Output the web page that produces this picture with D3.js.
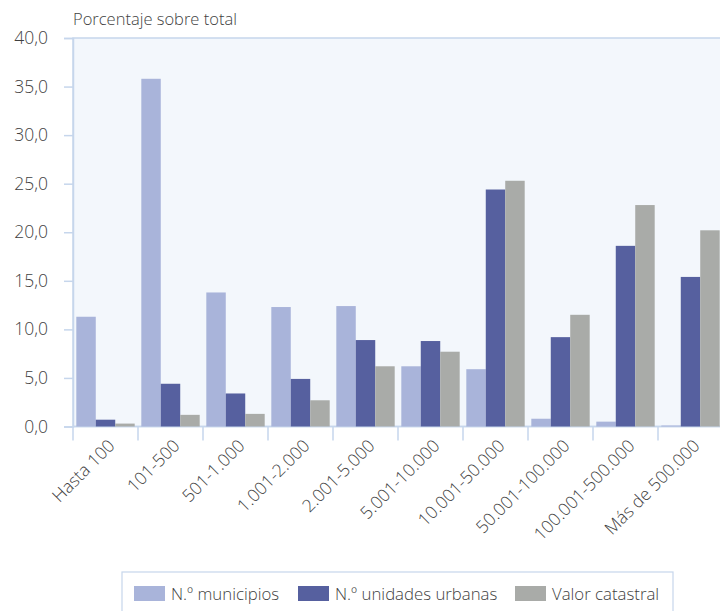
<!DOCTYPE html>
<html>
<head>
<meta charset="utf-8">
<script src="https://cdn.jsdelivr.net/npm/d3@7"></script>
<style>
  html, body { margin: 0; padding: 0; background: #ffffff; }
  svg { display: block; }
  svg text { font-family: "Open Sans", "Noto Sans", sans-serif; font-weight: 300; }
</style>
</head>
<body>
<svg id="chart" width="720" height="611"></svg>
<script>
// Municipality size bands (inhabitants)
const categories = ["Hasta 100", "101-500", "501-1.000", "1.001-2.000", "2.001-5.000",
  "5.001-10.000", "10.001-50.000", "50.001-100.000", "100.001-500.000", "Más de 500.000"];

// Share of total (%) per band
const municipios = [11.3, 35.8, 13.8, 12.3, 12.4, 6.2, 5.9, 0.8, 0.5, 0.1];
const unidadesUrbanas = [0.7, 4.4, 3.4, 4.9, 8.9, 8.8, 24.4, 9.2, 18.6, 15.4];
const valorCatastral = [0.3, 1.2, 1.3, 2.7, 6.2, 7.7, 25.3, 11.5, 22.8, 20.2];

const seriesNames = ["N.º municipios", "N.º unidades urbanas", "Valor catastral"];
const yTicks = [0, 5, 10, 15, 20, 25, 30, 35, 40];

const colors = ["#a9b4da", "#56609f", "#a9aba8"];
const textColor = "#3f3f3f";
const lineColor = "#c6d6ec";

const svg = d3.select("#chart");
const plot = { left: 73, right: 723, top: 38, bottom: 426.5 };

const x = d3.scaleBand().domain(categories).range([plot.left, plot.right]).paddingInner(0).paddingOuter(0);
const inner = d3.scaleBand().domain(seriesNames).range([0, x.bandwidth()]).paddingInner(0).paddingOuter(0.17);
const y = d3.scaleLinear().domain([0, 40]).range([plot.bottom, plot.top]);

// plot background
svg.append("rect")
  .attr("x", plot.left).attr("y", plot.top)
  .attr("width", plot.right - plot.left).attr("height", plot.bottom - plot.top)
  .attr("fill", "#f3f7fc").attr("stroke", lineColor).attr("stroke-width", 1.5);

// y axis
const yAxis = d3.axisLeft(y).tickValues(yTicks).tickSize(9).tickPadding(16)
  .tickFormat(d => d3.format(".1f")(d).replace(".", ","));
const gy = svg.append("g").attr("transform", `translate(${plot.left},0)`).call(yAxis)
  .attr("font-family", null).attr("font-size", null);
gy.select(".domain").attr("stroke", lineColor).attr("stroke-width", 1.5);
gy.selectAll(".tick line").attr("stroke", lineColor).attr("stroke-width", 1.5);
gy.selectAll(".tick text").attr("fill", textColor).style("font-size", "17.5px");

// x axis: ticks at band boundaries
svg.append("line")
  .attr("x1", plot.left).attr("x2", plot.right)
  .attr("y1", plot.bottom).attr("y2", plot.bottom)
  .attr("stroke", lineColor).attr("stroke-width", 1.5);
svg.append("g").selectAll("line")
  .data(categories)
  .join("line")
  .attr("x1", d => x(d)).attr("x2", d => x(d))
  .attr("y1", plot.bottom).attr("y2", plot.bottom + 14)
  .attr("stroke", lineColor).attr("stroke-width", 1.5);

svg.append("g").selectAll("text")
  .data(categories)
  .join("text")
  .attr("transform", d => `translate(${x(d) + x.bandwidth() / 2 + 6},${plot.bottom + 16}) rotate(-45)`)
  .attr("text-anchor", "end")
  .attr("dy", "0.35em")
  .attr("fill", textColor)
  .style("font-size", "17.5px")
  .text(d => d);

// bars
const allSeries = [municipios, unidadesUrbanas, valorCatastral];
const rows = categories.map((c, i) => ({ cat: c, vals: allSeries.map((s, k) => ({ key: seriesNames[k], k, v: s[i] })) }));

svg.append("g").selectAll("g")
  .data(rows)
  .join("g")
  .attr("transform", d => `translate(${x(d.cat)},0)`)
  .selectAll("rect")
  .data(d => d.vals)
  .join("rect")
  .attr("x", d => inner(d.key))
  .attr("width", inner.bandwidth())
  .attr("y", d => y(d.v))
  .attr("height", d => y(0) - y(d.v))
  .attr("fill", d => colors[d.k]);

// axis title
svg.append("text")
  .attr("x", 73).attr("y", 25)
  .attr("fill", textColor)
  .style("font-size", "16.5px")
  .text("Porcentaje sobre total");

// legend
const legend = svg.append("g");
legend.append("rect")
  .attr("x", 122).attr("y", 572).attr("width", 551).attr("height", 50)
  .attr("fill", "#ffffff").attr("stroke", lineColor).attr("stroke-width", 1.2);
const legendX = [134, 298, 515];
seriesNames.forEach((name, k) => {
  legend.append("rect")
    .attr("x", legendX[k]).attr("y", 586).attr("width", 31).attr("height", 15)
    .attr("fill", colors[k]);
  legend.append("text")
    .attr("x", legendX[k] + 37).attr("y", 594).attr("dy", "0.35em")
    .attr("fill", textColor)
    .style("font-size", "16.8px")
    .text(name);
});
</script>
</body>
</html>
